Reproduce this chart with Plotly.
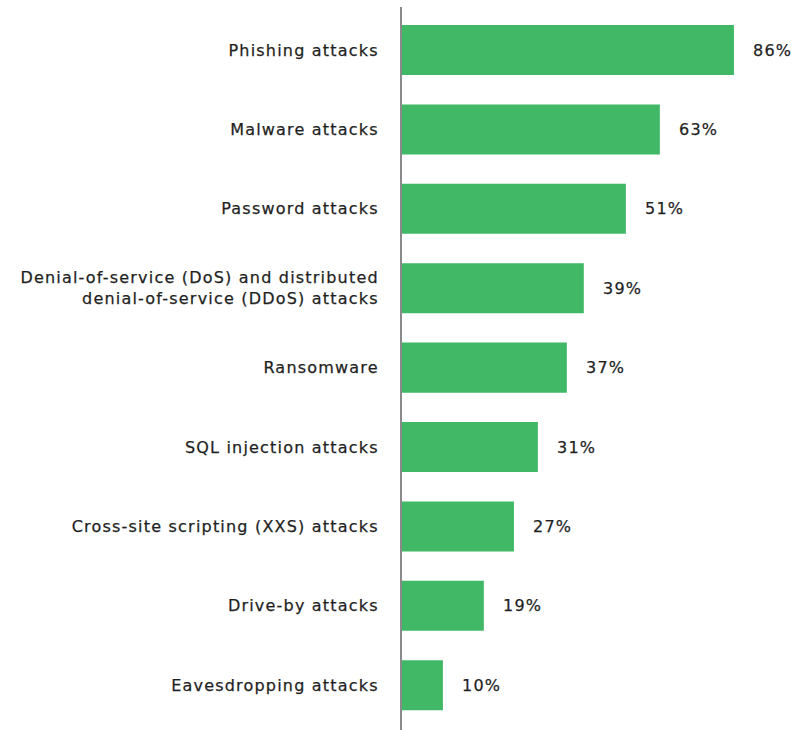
import plotly.graph_objects as go

categories = [
    "Phishing attacks",
    "Malware attacks",
    "Password attacks",
    "Denial-of-service (DoS) and distributed<br>denial-of-service (DDoS) attacks",
    "Ransomware",
    "SQL injection attacks",
    "Cross-site scripting (XXS) attacks",
    "Drive-by attacks",
    "Eavesdropping attacks",
]
# percentages printed on the chart
shares = [86, 63, 51, 39, 37, 31, 27, 19, 10]
# bar lengths as drawn in the picture (same units, scaled to the 86% bar)
bar_lengths = [86, 66.8, 58.0, 47.1, 42.7, 35.2, 29.0, 21.2, 10.6]

BAR_COLOR = "#41B866"
TEXT_COLOR = "#1f1f1f"
FONT = "DejaVu Sans"

fig = go.Figure()
fig.add_trace(go.Bar(
    x=bar_lengths,
    y=categories,
    orientation="h",
    marker=dict(color=BAR_COLOR, line=dict(width=0)),
    hoverinfo="skip",
))

for cat, length, share in zip(categories, bar_lengths, shares):
    fig.add_annotation(
        x=length, y=cat, text=f"{share}%",
        xanchor="left", yanchor="middle", xshift=17, showarrow=False,
        align="left",
        font=dict(family=FONT, size=16, color=TEXT_COLOR),
    )

fig.update_layout(
    width=810, height=730,
    margin=dict(l=402, r=0, t=7, b=0, autoexpand=False),
    paper_bgcolor="white", plot_bgcolor="white",
    bargap=0.37,
    showlegend=False,
    font=dict(family=FONT, size=16, color=TEXT_COLOR),
)
fig.update_xaxes(
    range=[0, 105.7], showgrid=False, zeroline=False, showline=False,
    showticklabels=False, ticks="",
)
fig.update_yaxes(
    type="category", categoryorder="array", categoryarray=categories,
    range=[8.564, -0.542],
    showgrid=False, zeroline=False,
    showline=True, linecolor="#8a8a8a", linewidth=2,
    ticks="", ticklabelstandoff=18,
    tickfont=dict(family=FONT, size=16, color=TEXT_COLOR),
)

post = """
document.body.style.margin = '0';
var gd = document.getElementById('{plot_id}');
gd.querySelectorAll('text').forEach(function(t){
    t.style.letterSpacing = '1.2px';
    t.style.stroke = '#1f1f1f';
    t.style.strokeWidth = '0.25px';
});
"""

fig.write_html("out.html", post_script=post, config={"displayModeBar": False})
